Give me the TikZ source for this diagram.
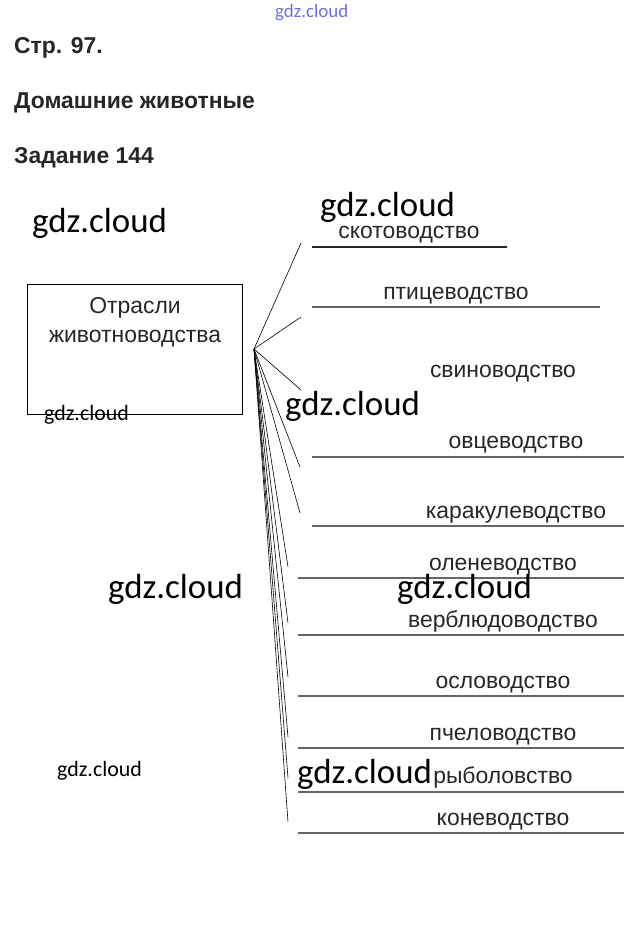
\documentclass[tikz,border=0pt]{standalone}
\usepackage{fontspec}
\setmainfont{Liberation Sans}
\newfontfamily\wmfont{Carlito}
\begin{document}
\begin{tikzpicture}[x=1bp,y=-1bp,inner sep=0,
	lbl/.style={anchor=base,font=\fontsize{23}{25}\selectfont,text=black!85},
	hd/.style={anchor=base west,font=\fontsize{23}{25}\selectfont\bfseries,text=black!85},
	fan/.style={line width=0.6bp},
	rl/.style={line width=1.1bp,draw=black!60},
	wm/.style={anchor=base west,font=\wmfont\fontsize{35}{37}\selectfont},
	wms/.style={anchor=base west,font=\wmfont\fontsize{22}{24}\selectfont}]
	\useasboundingbox (0,0) rectangle (624,932);
	\node[hd] (h1) at (14,53) {Стр. 97.};
	\node[hd] (h2) at (14,108) {Домашние животные};
	\node[hd] (h3) at (14,163) {Задание 144};
	\node[draw,line width=0.8bp,minimum width=215bp,minimum height=130bp] (box) at (134.5,349) {};
	\node[lbl] (t1) at (135,313) {Отрасли};
	\node[lbl] (t2) at (135,342) {животноводства};
	\coordinate (hub) at (254,349);
	\coordinate (e1) at (301,243);
	\coordinate (e2) at (301,317);
	\coordinate (e3) at (301,390);
	\coordinate (e4) at (300,467);
	\coordinate (e5) at (300,513);
	\coordinate (e6) at (288,567);
	\coordinate (e7) at (288,623);
	\coordinate (e8) at (288,677);
	\coordinate (e9) at (288,737);
	\coordinate (e10) at (288,778);
	\coordinate (e11) at (288,822);
	\foreach \i in {1,...,11}
		\draw[fan] (hub) -- (e\i);
	\node[lbl] (a1) at (409,238) {скотоводство};
	\node[lbl] (a2) at (456,299) {птицеводство};
	\node[lbl] (a3) at (503,377) {свиноводство};
	\node[lbl] (a4) at (516,448) {овцеводство};
	\node[lbl] (a5) at (516,518) {каракулеводство};
	\node[lbl] (a6) at (503,570) {оленеводство};
	\node[lbl] (a7) at (503,627) {верблюдоводство};
	\node[lbl] (a8) at (503,688) {ословодство};
	\node[lbl] (a9) at (503,740) {пчеловодство};
	\node[lbl] (a10) at (503,783) {рыболовство};
	\node[lbl] (a11) at (503,825) {коневодство};
	\draw[rl,draw=black!85] (312,247) -- (507,247);
	\draw[rl] (312,307) -- (600,307);
	\draw[rl] (312,457) -- (624,457);
	\draw[rl] (312,526) -- (624,526);
	\foreach \y in {578,635,696,748,792,833}
		\draw[rl] (298,\y) -- (624,\y);
	\node[anchor=base west,font=\wmfont\fontsize{19}{21}\selectfont,text={rgb,255:red,110;green,110;blue,225}] (w0) at (275,17) {gdz.cloud};
	\node[wm] (w1) at (32,232) {gdz.cloud};
	\node[wm] (w2) at (320,216) {gdz.cloud};
	\node[wm] (w3) at (285,415) {gdz.cloud};
	\node[wm] (w4) at (108,598) {gdz.cloud};
	\node[wm] (w5) at (397,598) {gdz.cloud};
	\node[wm] (w6) at (297,783) {gdz.cloud};
	\node[wms] (w7) at (44,420) {gdz.cloud};
	\node[wms] (w8) at (57,776) {gdz.cloud};
\end{tikzpicture}
\end{document}
